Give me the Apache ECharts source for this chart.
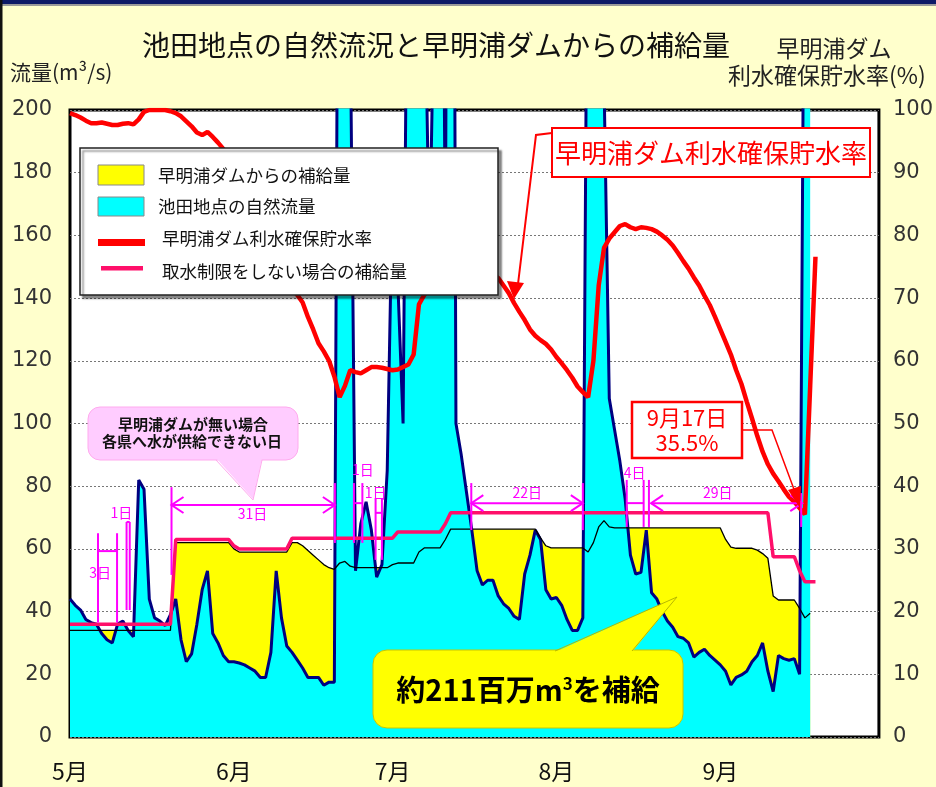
<!DOCTYPE html>
<html>
<head>
<meta charset="utf-8">
<script src="https://cdn.jsdelivr.net/npm/echarts@6/dist/echarts.min.js"></script>
<style>
html, body { margin: 0; padding: 0; background: #ffffcc; }
#main { width: 936px; height: 787px; }
</style>
</head>
<body>
<div id="main"></div>
<script>
// 月ラベル
var monthNames = ['5月', '6月', '7月', '8月', '9月'];
var monthDays = [31, 30, 31, 31, 30];

// 池田地点の自然流量 (m3/s) 5/1〜9/18
var naturalFlow = [
  44, 42, 40.5, 37.5, 36.5, 36, 33, 31, 30, 36,
  37, 34, 32, 82, 79, 44, 38, 37, 35.5, 39,
  44, 31, 24, 26.5, 36, 47, 53, 33, 30, 26,
  24, 24, 23.6, 23, 22, 21, 19, 19, 27, 53,
  38, 29, 27, 24.5, 22, 19, 19, 19, 16.5, 17.5,
  17.5, 390, 400, 230, 53, 68, 75, 66, 51, 55,
  85, 175, 145, 100, 300, 300, 300, 250, 155, 250,
  400, 155, 600, 100, 90, 78, 66, 53, 48.5, 50,
  50, 45, 42.5, 41, 38.5, 37.5, 52, 58, 66, 63,
  47, 44, 44.5, 42, 37.5, 34, 34, 38, 310, 400,
  400, 210, 108, 98, 88, 76, 58, 52, 52.5, 66,
  46, 44, 40, 37, 35, 32, 31.5, 30, 25.5, 27,
  28, 26, 24.5, 23, 21, 16.6, 19, 19.8, 21, 24,
  26, 30, 21, 14.5, 26, 25, 24.5, 25, 20, 300,
  300
];

// 補給後の流量 (黒線)
var targetFlow = [
  34, 34, 34, 34, 34, 34, 34, 34, 34, 34,
  34, 34, 34, 34, 34, 34, 34, 34, 34, 34,
  62, 62, 62, 62, 62, 62, 62, 62, 62, 62,
  62, 60, 59, 59, 59, 59, 59, 59, 59, 59,
  59, 59, 62, 62, 61, 59.5, 58, 56.5, 55, 54,
  53.5, 55.5, 56, 54.5, 54, 54, 54, 54, 54, 54,
  54, 55, 55.5, 55.5, 55.5, 55.5, 59, 60.3, 60.3, 60.3,
  60.3, 63, 66.3, 66.3, 66.3, 66.3, 66.3, 66.3, 66.3, 66.3,
  66.3, 66.3, 66.3, 66.3, 66.3, 66.3, 66.3, 66.3, 66.3, 63.5,
  61, 60.3, 60.3, 60.3, 60.3, 60.3, 60.3, 60.3, 59, 62,
  67, 69, 67, 66.7, 66.7, 66.7, 66.7, 66.7, 66.7, 66.7,
  66.7, 66.7, 66.7, 66.7, 66.7, 66.7, 66.7, 66.7, 66.7, 66.7,
  66.7, 66.7, 66.7, 66.7, 63, 60.6, 60.2, 60.2, 60.2, 60.2,
  59.6, 58.5, 57, 45, 43.7, 43.7, 43.7, 43.7, 41, 38,
  39.5
];

// 取水制限をしない場合の補給量
var noLimitFlow = [
  36, 36, 36, 36, 36, 36, 36, 36, 36, 36,
  36, 36, 36, 36, 36, 36, 36, 36, 36, 36,
  63, 63, 63, 63, 63, 63, 63, 63, 63, 63,
  63, 61, 60, 60, 60, 60, 60, 60, 60, 60,
  60, 60, 63.4, 63.4, 63.4, 63.4, 63.4, 63.4, 63.4, 63.4,
  63.4, 63.4, 63.4, 63.4, 63.4, 63.4, 63.4, 63.4, 63.4, 63.4,
  63.4, 63.4, 65.4, 65.4, 65.4, 65.4, 65.4, 65.4, 65.4, 65.4,
  65.4, 68, 71.5, 71.5, 71.5, 71.5, 71.5, 71.5, 71.5, 71.5,
  71.5, 71.5, 71.5, 71.5, 71.5, 71.5, 71.5, 71.5, 71.5, 71.5,
  71.5, 71.5, 71.5, 71.5, 71.5, 71.5, 71.5, 71.5, 71.5, 71.5,
  71.5, 71.5, 71.5, 71.5, 71.5, 71.5, 71.5, 71.5, 71.5, 71.5,
  71.5, 71.5, 71.5, 71.5, 71.5, 71.5, 71.5, 71.5, 71.5, 71.5,
  71.5, 71.5, 71.5, 71.5, 71.5, 71.5, 71.5, 71.5, 71.5, 71.5,
  71.5, 71.5, 71.5, 57.5, 57.5, 57.5, 57.5, 57.5, 53, 49.5,
  49.5, 49.5
];

// 早明浦ダム利水確保貯水率 (%)
var storageRate = [
  99.5, 99.2, 98.8, 98.3, 97.9, 97.9, 98, 97.8, 97.6, 97.6,
  97.8, 97.9, 97.7, 98.5, 99.7, 100, 100, 100, 100, 99.8,
  99.5, 99, 98.2, 97.4, 96.4, 96, 96.5, 95.7, 94.8, 93.8,
  92.5, 91, 89, 87.5, 86, 84, 82.5, 81, 79, 77.5,
  75.5, 73.5, 71.5, 70.5, 69.3, 67, 65, 62.8, 61.5, 60,
  57.5, 54.2, 56, 58.5, 58.2, 58, 58.5, 59, 59, 58.9,
  58.7, 58.5, 58.6, 59, 59.4, 61, 69, 70.5, 71.5, 72.5,
  73, 73.5, 74, 74.5, 75, 75, 75, 74.8, 74.5, 74.2,
  73.8, 73.2, 72, 70.8, 69.2, 67.8, 66.5, 65, 64, 63.3,
  62.7, 61.8, 60.6, 59.6, 58.5, 57.3, 55.9, 55, 54.2, 60,
  72, 78, 79.5, 80.5, 81.5, 81.8, 81.3, 81, 81.3, 81.2,
  81, 80.6, 80, 79.3, 78.4, 77.2, 75.9, 74.7, 73.3, 72,
  70.4, 68.9, 67, 65, 63, 61, 58.5, 56.3, 53.5, 50.8,
  48, 45.5, 43.5, 42, 40.8, 39.5, 38.3, 37.5, 36.5, 35.5,
  56, 76.6
];

// 各県へ水が供給できない日 (日番号, 流量軸の値)
var spanTicks = [
  [5.3, 36.5, 65], [8.9, 36.5, 65],
  [10.7, 40.5, 68.6], [11.3, 40.5, 68.6],
  [19.2, 51.7, 79.7], [50.1, 61.9, 81],
  [53.7, 61.9, 81], [55.3, 61.9, 81],
  [57.8, 56.5, 76.2], [59.0, 56.5, 76.2],
  [75.9, 66, 81], [97.0, 66, 81],
  [105.3, 67, 82], [108.5, 67, 82], [109.5, 67, 82],
  [138.3, 67, 77.8]
];
var spanBars = [[5.3, 8.9, 59.3], [10.7, 11.3, 68.6], [53.7, 55.3, 74.6], [57.8, 59.0, 71.5], [105.3, 108.5, 74.6]];
var spanArrows = [[19.2, 50.1, 74], [75.9, 97.0, 74.6], [109.9, 138.5, 74.6]];
var spanLabels = [
  ['3日', 5.7, 52.3], ['1日', 9.7, 71.6], ['31日', 34.5, 71.2], ['1日', 55.4, 85.2],
  ['1日', 57.8, 77.8], ['22日', 86.5, 77.8], ['4日', 106.8, 84.2], ['29日', 122.5, 77.8]
];

var days = [];
for (var m = 0; m < monthDays.length; m++) {
  for (var k = 1; k <= monthDays[m]; k++) days.push((m + 5) + '/' + k);
}
days.push('10/1');

var cjk = '"Noto Sans CJK JP", sans-serif';
var num = '"DejaVu Sans", sans-serif';
var magenta = '#ff00ff';

var chart = echarts.init(document.getElementById('main'));

var option = {
  animation: false,
  backgroundColor: '#ffffcc',
  grid: {
    left: 70, right: 54, top: 110, bottom: 50,
    show: true, backgroundColor: '#ffffff', borderColor: '#000000', borderWidth: 3
  },
  xAxis: {
    type: 'category',
    data: days,
    boundaryGap: false,
    axisLine: { show: false },
    axisTick: { show: false },
    splitLine: { show: false },
    axisLabel: {
      interval: function (i, v) { return /\/1$/.test(v) && v !== '10/1'; },
      formatter: function (v) { return monthNames[parseInt(v.split('/')[0], 10) - 5]; },
      fontSize: 23, fontFamily: cjk, color: '#111', margin: 23
    }
  },
  yAxis: [{
    type: 'value', min: 0, max: 200, interval: 20,
    axisLine: { show: false }, axisTick: { show: false },
    axisLabel: { fontSize: 21, fontFamily: num, color: '#333', margin: 18 },
    splitLine: { lineStyle: { color: '#777', type: [2, 2], width: 1 } }
  }, {
    type: 'value', min: 0, max: 100, interval: 10, position: 'right',
    axisLine: { show: false }, axisTick: { show: false },
    axisLabel: { fontSize: 21, fontFamily: num, color: '#333', margin: 14 },
    splitLine: { show: false }
  }],
  series: [{
    name: '早明浦ダムからの補給量',
    type: 'line', data: targetFlow, symbol: 'none', z: 1,
    lineStyle: { opacity: 0 },
    areaStyle: { color: '#ffff00', opacity: 1 }
  }, {
    name: '池田地点の自然流量',
    type: 'line', data: naturalFlow, symbol: 'none', z: 2,
    lineStyle: { color: '#000080', width: 3 },
    areaStyle: { color: '#00ffff', opacity: 1 }
  }, {
    name: '補給後流量',
    type: 'line', data: targetFlow, symbol: 'none', z: 3,
    lineStyle: { color: '#000000', width: 1.3 }
  }, {
    name: '取水制限をしない場合の補給量',
    type: 'line', data: noLimitFlow, symbol: 'none', z: 4,
    lineStyle: { color: '#ff0f6a', width: 3.5 }
  }, {
    name: '早明浦ダム利水確保貯水率',
    type: 'line', yAxisIndex: 1, data: storageRate, symbol: 'none', z: 5,
    lineStyle: { color: '#ff0000', width: 4.5 }
  }]
};
chart.setOption(option);

var x0 = chart.convertToPixel({ xAxisIndex: 0 }, 0);
var x1 = chart.convertToPixel({ xAxisIndex: 0 }, days.length - 1);
function px(d) { return x0 + (x1 - x0) * d / (days.length - 1); }
function py(v) { return chart.convertToPixel({ yAxisIndex: 0 }, v); }

function text(x, y, s, size, color, align, weight) {
  return {
    type: 'text', z: 120, x: x, y: y,
    style: {
      text: s, fontSize: size, fontFamily: cjk, fill: color,
      align: align || 'center', verticalAlign: 'middle', fontWeight: weight || 'normal'
    }
  };
}
function seg(ax, ay, bx, by, color, w) {
  return { type: 'line', z: 110, shape: { x1: ax, y1: ay, x2: bx, y2: by }, style: { stroke: color, lineWidth: w } };
}

var g = [];

// 外枠
g.push({ type: 'rect', z: 130, shape: { x: 0, y: 0, width: 936, height: 4 }, style: { fill: '#0d1a66' } });
g.push({ type: 'rect', z: 130, shape: { x: 0, y: 4, width: 936, height: 2 }, style: { fill: '#9a9a9a' } });
g.push({ type: 'rect', z: 130, shape: { x: 0, y: 0, width: 2.5, height: 787 }, style: { fill: '#111' } });

// タイトル・軸名
g.push(text(436, 45, '池田地点の自然流況と早明浦ダムからの補給量', 28, '#111'));
g.push(text(10, 72, '流量(m³/s)', 21, '#222', 'left'));
g.push(text(834, 48, '早明浦ダム', 23, '#222'));
g.push(text(728, 75, '利水確保貯水率(%)', 23, '#222', 'left'));

// 日数の範囲
spanTicks.forEach(function (t) { g.push(seg(px(t[0]), py(t[1]), px(t[0]), py(t[2]), magenta, 2)); });
spanBars.forEach(function (b) { g.push(seg(px(b[0]), py(b[2]), px(b[1]), py(b[2]), magenta, 2)); });
spanArrows.forEach(function (a) {
  var l = px(a[0]), r = px(a[1]), y = py(a[2]);
  g.push(seg(l, y, r, y, magenta, 2));
  g.push({ type: 'polyline', z: 110, shape: { points: [[l + 12, y - 8], [l, y], [l + 12, y + 8]] }, style: { stroke: magenta, lineWidth: 2, fill: null } });
  g.push({ type: 'polyline', z: 110, shape: { points: [[r - 12, y - 8], [r, y], [r - 12, y + 8]] }, style: { stroke: magenta, lineWidth: 2, fill: null } });
});
spanLabels.forEach(function (s) { g.push(text(px(s[1]), py(s[2]), s[0], 14, magenta)); });

// 凡例
g.push({ type: 'rect', z: 115, shape: { x: 80, y: 148, width: 418, height: 147 },
  style: { fill: '#fff', stroke: '#222', lineWidth: 1.5, shadowColor: 'rgba(0,0,0,0.45)', shadowOffsetX: 3, shadowOffsetY: 3, shadowBlur: 2 } });
g.push({ type: 'rect', z: 116, shape: { x: 98, y: 165, width: 46, height: 20 }, style: { fill: '#ffff00', stroke: '#888', lineWidth: 1 } });
g.push({ type: 'rect', z: 116, shape: { x: 98, y: 197, width: 46, height: 19 }, style: { fill: '#00ffff', stroke: '#888', lineWidth: 1 } });
g.push({ type: 'rect', z: 116, shape: { x: 98, y: 239, width: 47, height: 7 }, style: { fill: '#ff0000' } });
g.push({ type: 'rect', z: 116, shape: { x: 101, y: 266, width: 42, height: 4.5 }, style: { fill: '#ff0f6a' } });
g.push(text(158, 175, '早明浦ダムからの補給量', 17.5, '#111', 'left'));
g.push(text(158, 206, '池田地点の自然流量', 17.5, '#111', 'left'));
g.push(text(162, 238, '早明浦ダム利水確保貯水率', 17.5, '#111', 'left'));
g.push(text(162, 271, '取水制限をしない場合の補給量', 17.5, '#111', 'left'));

// 貯水率のラベル
g.push({ type: 'rect', z: 115, shape: { x: 552, y: 128, width: 318, height: 49 }, style: { fill: '#fff', stroke: '#ff0000', lineWidth: 2 } });
g.push(text(711, 153, '早明浦ダム利水確保貯水率', 26, '#ff0000'));
g.push({ type: 'polyline', z: 115, shape: { points: [[552, 133], [536, 135], [518, 284]] }, style: { stroke: '#ff0000', lineWidth: 2, fill: null } });
g.push({ type: 'polygon', z: 115, shape: { points: [[514, 299], [507, 281], [524, 283]] }, style: { fill: '#ff0000' } });

// 9月17日
g.push({ type: 'rect', z: 115, shape: { x: 632, y: 402, width: 110, height: 56 }, style: { fill: '#fff', stroke: '#ff0000', lineWidth: 2.5 } });
g.push(text(687, 418, '9月17日', 22, '#ff0000'));
g.push(text(687, 443, '35.5%', 22, '#ff0000'));
g.push({ type: 'polyline', z: 115, shape: { points: [[742, 430], [772, 430], [795, 492]] }, style: { stroke: '#ff0000', lineWidth: 1.5, fill: null } });
g.push({ type: 'polygon', z: 115, shape: { points: [[800, 508], [788, 490], [801, 486]] }, style: { fill: '#ff0000' } });

// 吹き出し (ピンク)
g.push({ type: 'rect', z: 115, shape: { x: 88, y: 407, width: 210, height: 53, r: 12 }, style: { fill: '#ffccff', stroke: '#ffaaee', lineWidth: 1 } });
g.push({ type: 'polygon', z: 116, shape: { points: [[216, 458], [253, 499], [262, 458]] }, style: { fill: '#ffccff' } });
g.push({ type: 'polyline', z: 116, shape: { points: [[216, 460], [253, 500], [262, 460]] }, style: { stroke: '#ffaaee', lineWidth: 1, fill: null } });
g.push(text(193, 424, '早明浦ダムが無い場合', 15, '#111', 'center', 'bold'));
g.push(text(192, 441, '各県へ水が供給できない日', 15, '#111', 'center', 'bold'));

// 吹き出し (黄)
g.push({ type: 'rect', z: 115, shape: { x: 373, y: 650, width: 310, height: 78, r: 14 }, style: { fill: '#ffff00', stroke: '#c8c800', lineWidth: 1 } });
g.push({ type: 'polygon', z: 116, shape: { points: [[555, 652], [677, 597], [632, 652]] }, style: { fill: '#ffff00' } });
g.push({ type: 'polyline', z: 116, shape: { points: [[555, 651], [677, 597], [632, 651]] }, style: { stroke: '#b8b800', lineWidth: 1, fill: null } });
g.push({
  type: 'text', z: 120, x: 528, y: 690,
  style: {
    text: '{a|約211百万m}{s|3}{a|を補給}',
    align: 'center', verticalAlign: 'middle',
    rich: {
      a: { fontSize: 29, fontWeight: 'bold', fontFamily: cjk, fill: '#000' },
      s: { fontSize: 17, fontWeight: 'bold', fontFamily: cjk, fill: '#000', verticalAlign: 'top' }
    }
  }
});

chart.setOption({ graphic: g });
</script>
</body>
</html>
